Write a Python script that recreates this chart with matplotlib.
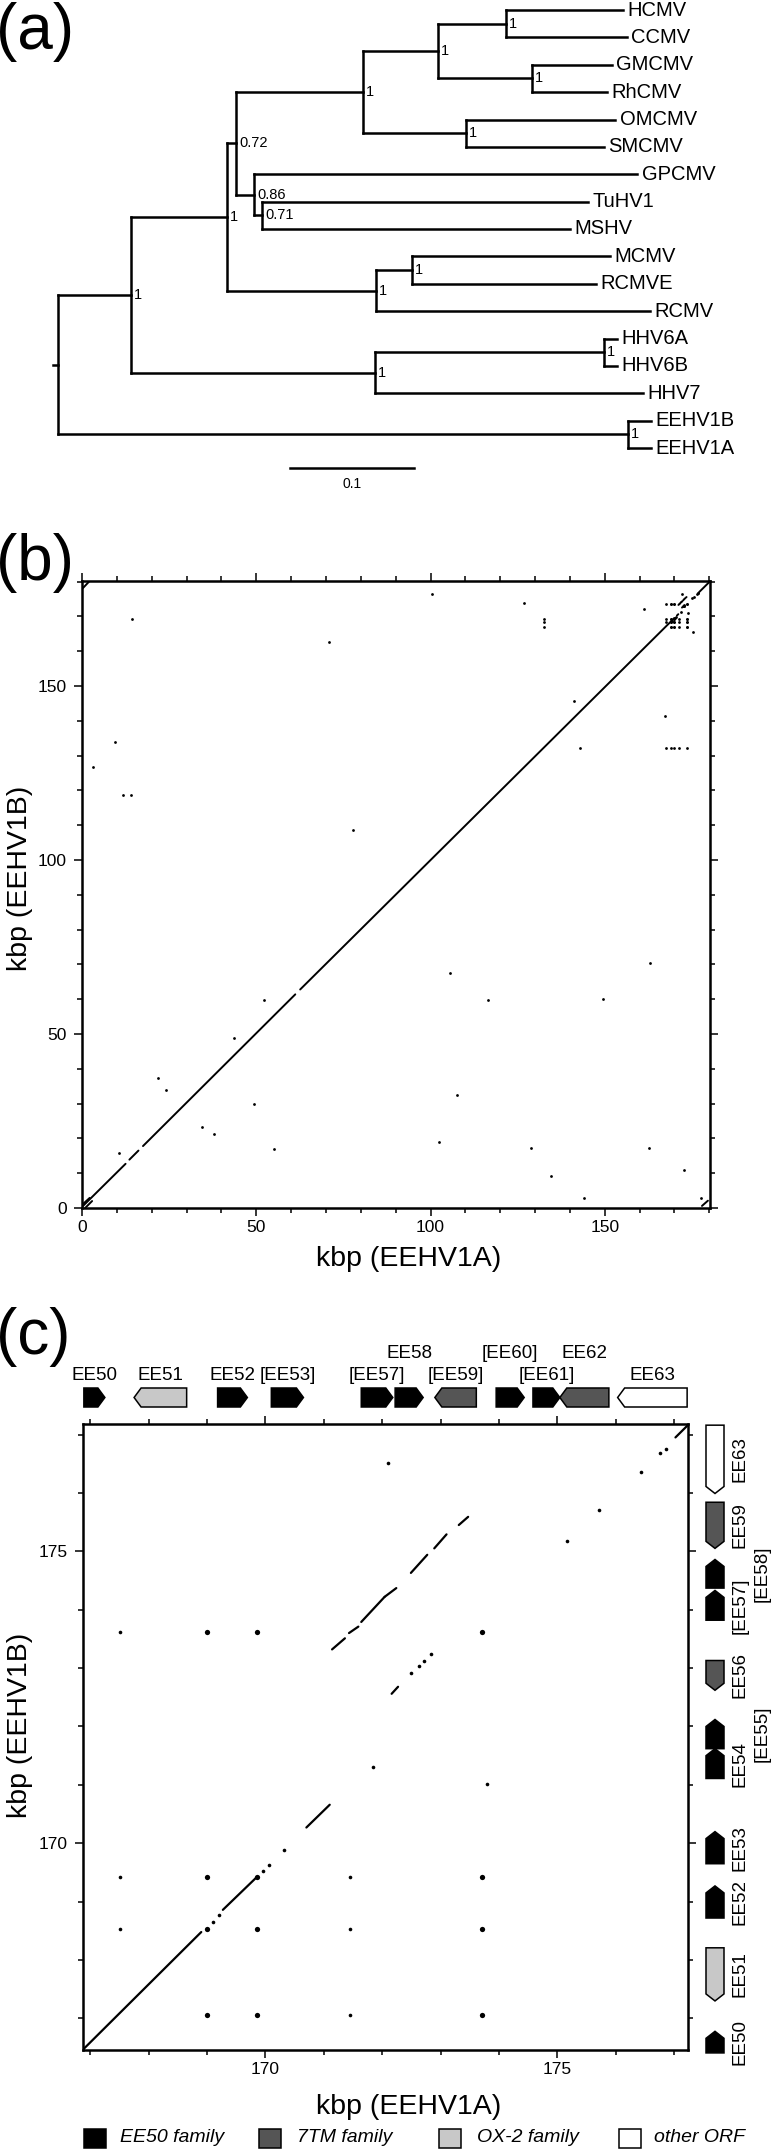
import matplotlib
matplotlib.use('Agg')
import matplotlib.pyplot as plt
from matplotlib.patches import Polygon, Rectangle
from matplotlib.transforms import blended_transform_factory
from matplotlib.ticker import MultipleLocator

plt.rcParams['font.family'] = ['Liberation Sans', 'DejaVu Sans']

# ---------------- data: (a) phylogenetic tree ----------------
leaf_order = ['HCMV', 'CCMV', 'GMCMV', 'RhCMV', 'OMCMV', 'SMCMV', 'GPCMV', 'TuHV1',
              'MSHV', 'MCMV', 'RCMVE', 'RCMV', 'HHV6A', 'HHV6B', 'HHV7', 'EEHV1B', 'EEHV1A']
tree_child = ['A', 'EEHV', 'B', 'Roseolo', 'N072', 'Muro', 'Primate', 'N086', 'N297', 'OMSM',
              'HCCC', 'GMRh', 'HCMV', 'CCMV', 'GMCMV', 'RhCMV', 'OMCMV', 'SMCMV', 'GPCMV', 'N071',
              'TuHV1', 'MSHV', 'MCRC', 'RCMV', 'MCMV', 'RCMVE', 'HHV6', 'HHV7', 'HHV6A', 'HHV6B',
              'EEHV1B', 'EEHV1A']
tree_parent = ['root', 'root', 'A', 'A', 'B', 'B', 'N072', 'N072', 'Primate', 'Primate',
               'N297', 'N297', 'HCCC', 'HCCC', 'GMRh', 'GMRh', 'OMSM', 'OMSM', 'N086', 'N086',
               'N071', 'N071', 'Muro', 'Muro', 'MCRC', 'MCRC', 'Roseolo', 'Roseolo', 'HHV6', 'HHV6',
               'EEHV', 'EEHV']
tree_length = [0.0589, 0.4597, 0.0774, 0.1968, 0.0073, 0.1202, 0.1024, 0.0145, 0.0605, 0.0831,
               0.0548, 0.0758, 0.0944, 0.0976, 0.0645, 0.0605, 0.1202, 0.1113, 0.3089, 0.0065,
               0.2629, 0.2484, 0.0290, 0.2210, 0.1597, 0.1484, 0.1847, 0.2161, 0.0105, 0.0105,
               0.0185, 0.0185]
support_node = ['A', 'EEHV', 'B', 'Roseolo', 'N072', 'Muro', 'Primate', 'N086', 'N297', 'OMSM',
                'HCCC', 'GMRh', 'N071', 'MCRC', 'HHV6']
support_value = ['1', '1', '1', '1', '0.72', '1', '1', '0.86', '1', '1', '1', '1', '0.71', '1', '1']
scale_bar_value = 0.1

# ---------------- data: (b)/(c) dot plot (kbp) ----------------
aln_a0 = [0.0, 13.6, 17.5, 62.6, 169.27, 170.70, 171.14, 171.43, 171.64, 172.04, 172.49, 172.89,
          173.31, 172.16, 177.02, 177.9, 0.3, 0.0, 0.9]
aln_a1 = [12.5, 16.2, 61.2, 168.90, 169.85, 171.10, 171.36, 171.59, 172.04, 172.24, 172.77, 173.10,
          173.47, 172.27, 180.2, 179.6, 2.0, 2.2, 2.9]
aln_b0 = [0.3, 13.9, 17.8, 62.8, 168.86, 170.27, 173.32, 173.60, 173.79, 174.22, 174.63, 175.05,
          175.45, 172.56, 176.95, 0.6, 178.2, 0.9, 0.0]
aln_b1 = [12.7, 16.5, 61.4, 168.48, 169.42, 170.66, 173.51, 173.71, 174.22, 174.37, 174.94, 175.29,
          175.59, 172.68, 180.1, 2.1, 180.0, 2.9, 2.0]

dot_a = [169.10, 169.21, 169.95, 170.06, 170.32, 171.84, 172.09, 173.80, 172.50, 172.63, 172.71,
         172.83, 175.16, 175.71, 176.43, 176.75, 176.85,
         167.51, 167.51, 167.51, 171.44, 171.44, 171.44,
         100.3, 126.7, 161.3, 14.4, 132.6, 132.6, 132.6, 70.9, 175.4, 141.1, 167.2, 142.9, 9.5, 3.1,
         11.9, 14.0, 77.7, 163.0, 105.5, 52.1, 116.5, 149.6, 43.6, 21.7, 24.0, 107.6, 49.4, 34.5,
         38.0, 102.4, 55.1, 128.8, 162.7, 10.5, 172.6, 134.7, 144.1, 177.5,
         167.51, 168.99, 169.85, 171.44, 173.71]
dot_b = [168.66, 168.77, 169.53, 169.62, 169.89, 171.30, 176.52, 171.02, 172.91, 173.04, 173.12,
         173.24, 175.18, 175.70, 176.35, 176.68, 176.76,
         173.62, 169.42, 168.54, 169.42, 168.54, 167.06,
         176.6, 173.8, 172.1, 169.4, 169.42, 168.54, 167.06, 162.6, 165.4, 145.7, 141.4, 132.3, 134.0,
         126.8, 118.6, 118.8, 108.6, 70.3, 67.6, 59.8, 59.8, 60.1, 48.9, 37.4, 33.9, 32.5, 29.8,
         23.4, 21.3, 19.0, 16.9, 17.2, 17.2, 15.9, 10.9, 9.2, 2.8, 2.8,
         132.3, 132.3, 132.3, 132.3, 132.3]
big_a = [168.99, 169.85, 173.71, 168.99, 169.85, 173.71, 168.99, 169.85, 173.71, 168.99, 169.85,
         173.71]
big_b = [173.62, 173.62, 173.62, 169.42, 169.42, 169.42, 168.54, 168.54, 168.54, 167.06, 167.06,
         167.06]

# ---------------- data: (c) gene maps ----------------
top_names = ['EE50', 'EE51', 'EE52', '[EE53]', '[EE57]', 'EE58', '[EE59]', '[EE60]', '[EE61]',
             'EE62', 'EE63']
top_start = [166.89, 167.75, 169.18, 170.10, 171.64, 172.22, 172.90, 173.95, 174.58, 175.04, 176.03]
top_end = [167.25, 168.65, 169.69, 170.65, 172.18, 172.70, 173.61, 174.43, 175.04, 175.88, 177.22]
top_strand = [1, -1, 1, 1, 1, 1, -1, 1, 1, -1, -1]
top_family = ['EE50', 'OX2', 'EE50', 'EE50', 'EE50', 'EE50', '7TM', 'EE50', 'EE50', '7TM', 'other']
top_row = [0, 0, 0, 0, 0, 1, 0, 1, 0, 1, 0]

right_names = ['EE50', 'EE51', 'EE52', 'EE53', 'EE54', '[EE55]', 'EE56', '[EE57]', '[EE58]',
               'EE59', 'EE63']
right_start = [166.41, 167.30, 168.72, 169.65, 171.11, 171.62, 172.62, 173.82, 174.37, 175.05, 175.99]
right_end = [166.78, 168.21, 169.27, 170.20, 171.62, 172.12, 173.13, 174.33, 174.86, 175.84, 177.16]
right_strand = [1, -1, 1, 1, 1, 1, -1, 1, 1, -1, -1]
right_family = ['EE50', 'OX2', 'EE50', 'EE50', 'EE50', 'EE50', '7TM', 'EE50', 'EE50', '7TM', 'other']
right_col = [0, 0, 0, 0, 0, 1, 0, 0, 1, 0, 0]

legend_keys = ['EE50', '7TM', 'OX2', 'other']
legend_labels = ['EE50 family', '7TM family', 'OX-2 family', 'other ORF']
family_color = {'EE50': '#000000', '7TM': '#555555', 'OX2': '#c8c8c8', 'other': '#ffffff'}

# ---------------- figure ----------------
W, H = 771, 2149
fig = plt.figure(figsize=(W / 100, H / 100), dpi=100)


def px_axes(l, t, w, h):
    return fig.add_axes([l / W, 1 - (t + h) / H, w / W, h / H])


# ======== (a) tree ========
axA = px_axes(0, 0, 771, 500)
axA.axis('off')
px_per_unit = 1240.0
root_px = 58.0
leaf_dy = 27.375
axA.set_xlim(-root_px / px_per_unit, (771 - root_px) / px_per_unit)
axA.set_ylim((500 - 10) / leaf_dy, -10 / leaf_dy)

children = {}
blen = {}
for c, p, L in zip(tree_child, tree_parent, tree_length):
    children.setdefault(p, []).append(c)
    blen[c] = L
nx, ny = {'root': 0.0}, {}


def place_x(n):
    for c in children.get(n, []):
        nx[c] = nx[n] + blen[c]
        place_x(c)


place_x('root')


def place_y(n):
    if n not in children:
        ny[n] = leaf_order.index(n)
        return ny[n]
    ys = [place_y(c) for c in children[n]]
    ny[n] = (min(ys) + max(ys)) / 2
    return ny[n]


place_y('root')
tree_lw = 1.8
for n, ch in children.items():
    ys = [ny[c] for c in ch]
    axA.plot([nx[n], nx[n]], [min(ys), max(ys)], color='black', lw=tree_lw,
             solid_capstyle='projecting')
    for c in ch:
        axA.plot([nx[n], nx[c]], [ny[c], ny[c]], color='black', lw=tree_lw,
                 solid_capstyle='projecting')
axA.plot([nx['root'] - 0.004, nx['root']], [ny['root'], ny['root']], color='black', lw=tree_lw)
for leaf in leaf_order:
    axA.annotate(leaf, (nx[leaf], ny[leaf]), xytext=(3.2, 0), textcoords='offset points',
                 ha='left', va='center', fontsize=14.5)
for n, v in zip(support_node, support_value):
    axA.annotate(v, (nx[n], ny[n]), xytext=(2.2, 0), textcoords='offset points',
                 ha='left', va='center', fontsize=10.5)
sb_x0 = (290 - root_px) / px_per_unit
sb_y = (468 - 10) / leaf_dy
axA.plot([sb_x0, sb_x0 + scale_bar_value], [sb_y, sb_y], color='black', lw=tree_lw)
axA.text(sb_x0 + scale_bar_value / 2, (484 - 10) / leaf_dy, str(scale_bar_value),
         ha='center', va='center', fontsize=10)


# ======== styling helper for dot plots ========
def style_axes(ax):
    for s in ax.spines.values():
        s.set_linewidth(1.8)
    ax.tick_params(which='both', direction='out', top=True, right=True, width=1.1,
                   labeltop=False, labelright=False)
    ax.tick_params(which='major', length=5.8, labelsize=12.5)
    ax.tick_params(which='minor', length=3.6)
    ax.tick_params(axis='x', which='major', pad=3)
    ax.tick_params(axis='y', which='major', pad=5)


# ======== (b) whole-genome dot plot ========
bl, bt, bw, bh = 82, 581, 628, 627
axB = px_axes(bl, bt, bw, bh)
axB.set_xlim(0, 180.2)
axB.set_ylim(0, 180.2)
axB.xaxis.set_major_locator(MultipleLocator(50))
axB.xaxis.set_minor_locator(MultipleLocator(10))
axB.yaxis.set_major_locator(MultipleLocator(50))
axB.yaxis.set_minor_locator(MultipleLocator(10))
style_axes(axB)
for a0, a1, b0, b1 in zip(aln_a0, aln_a1, aln_b0, aln_b1):
    axB.plot([a0, a1], [b0, b1], color='black', lw=1.4, solid_capstyle='round')
axB.plot(dot_a, dot_b, 'o', color='black', ms=2.0, mew=0)
axB.plot(big_a, big_b, 'o', color='black', ms=2.2, mew=0)
axB.set_xlabel('kbp (EEHV1A)', fontsize=20.5, va='center')
axB.set_ylabel('kbp (EEHV1B)', fontsize=20.5, va='center', ha='center')
axB.xaxis.set_label_coords((409 - bl) / bw, -(1259 - (bt + bh)) / bh)
axB.yaxis.set_label_coords(-(bl - 20) / bw, (bt + bh - 878) / bh)

# ======== (c) zoomed dot plot ========
cl, ct, cw, ch = 82.7, 1424, 605.6, 626
axC = px_axes(cl, ct, cw, ch)
axC.set_xlim(166.87, 177.24)
axC.set_ylim(166.46, 177.18)
axC.xaxis.set_major_locator(MultipleLocator(5))
axC.xaxis.set_minor_locator(MultipleLocator(1))
axC.yaxis.set_major_locator(MultipleLocator(5))
axC.yaxis.set_minor_locator(MultipleLocator(1))
style_axes(axC)
for a0, a1, b0, b1 in zip(aln_a0, aln_a1, aln_b0, aln_b1):
    axC.plot([a0, a1], [b0, b1], color='black', lw=1.6, solid_capstyle='round')
axC.plot(dot_a, dot_b, 'o', color='black', ms=2.6, mew=0)
axC.plot(big_a, big_b, 'o', color='black', ms=3.8, mew=0)
axC.set_xlabel('kbp (EEHV1A)', fontsize=20.5, va='center')
axC.set_ylabel('kbp (EEHV1B)', fontsize=20.5, va='center', ha='center')
axC.xaxis.set_label_coords((409 - cl) / cw, -(2107 - (ct + ch)) / ch)
axC.yaxis.set_label_coords(-(cl - 20) / cw, (ct + ch - 1725) / ch)

tip = 0.12
# top gene strip (EEHV1A)
trT = blended_transform_factory(axC.transData, axC.transAxes)
g_yc = (ct + ch - 1397.5) / ch
g_h = 19 / ch
row_y = [(ct + ch - 1376) / ch, (ct + ch - 1353) / ch]
for nm, s, e, st, fam, r in zip(top_names, top_start, top_end, top_strand, top_family, top_row):
    yb, yt = g_yc - g_h / 2, g_yc + g_h / 2
    if st > 0:
        pts = [(s, yb), (e - tip, yb), (e, g_yc), (e - tip, yt), (s, yt)]
    else:
        pts = [(s, g_yc), (s + tip, yb), (e, yb), (e, yt), (s + tip, yt)]
    axC.add_patch(Polygon(pts, closed=True, facecolor=family_color[fam], edgecolor='black',
                          lw=1.1, transform=trT, clip_on=False))
    axC.text((s + e) / 2, row_y[r], nm, transform=trT, ha='center', va='center',
             fontsize=13.5, clip_on=False)

# right gene strip (EEHV1B)
trR = blended_transform_factory(axC.transAxes, axC.transData)
g_xc = (715 - cl) / cw
g_w = 18 / cw
col_x = [(740 - cl) / cw, (762 - cl) / cw]
for nm, s, e, st, fam, c in zip(right_names, right_start, right_end, right_strand,
                                right_family, right_col):
    xl, xr = g_xc - g_w / 2, g_xc + g_w / 2
    if st > 0:
        pts = [(xl, s), (xr, s), (xr, e - tip), (g_xc, e), (xl, e - tip)]
    else:
        pts = [(g_xc, s), (xr, s + tip), (xr, e), (xl, e), (xl, s + tip)]
    axC.add_patch(Polygon(pts, closed=True, facecolor=family_color[fam], edgecolor='black',
                          lw=1.1, transform=trR, clip_on=False))
    axC.text(col_x[c], (s + e) / 2, nm, transform=trR, ha='center', va='center',
             rotation=90, fontsize=13.5, clip_on=False)

# legend
sq_left = [84, 259, 439, 619]
txt_left = [119.5, 297, 477, 654]
leg_y = 2138
for k, lab, sx, tx in zip(legend_keys, legend_labels, sq_left, txt_left):
    fig.add_artist(Rectangle((sx / W, 1 - (leg_y + 9.5) / H), 22 / W, 19 / H,
                             transform=fig.transFigure, facecolor=family_color[k],
                             edgecolor='black', lw=1.1))
    fig.text(tx / W, 1 - leg_y / H, lab, ha='left', va='center', fontsize=14, style='italic')

# panel letters
for lab, base in zip(['(a)', '(b)', '(c)'], [48.6, 580, 1354]):
    fig.text(-4 / W, 1 - base / H, lab, ha='left', va='baseline', fontsize=46)

fig.savefig('out.png', dpi=100)
